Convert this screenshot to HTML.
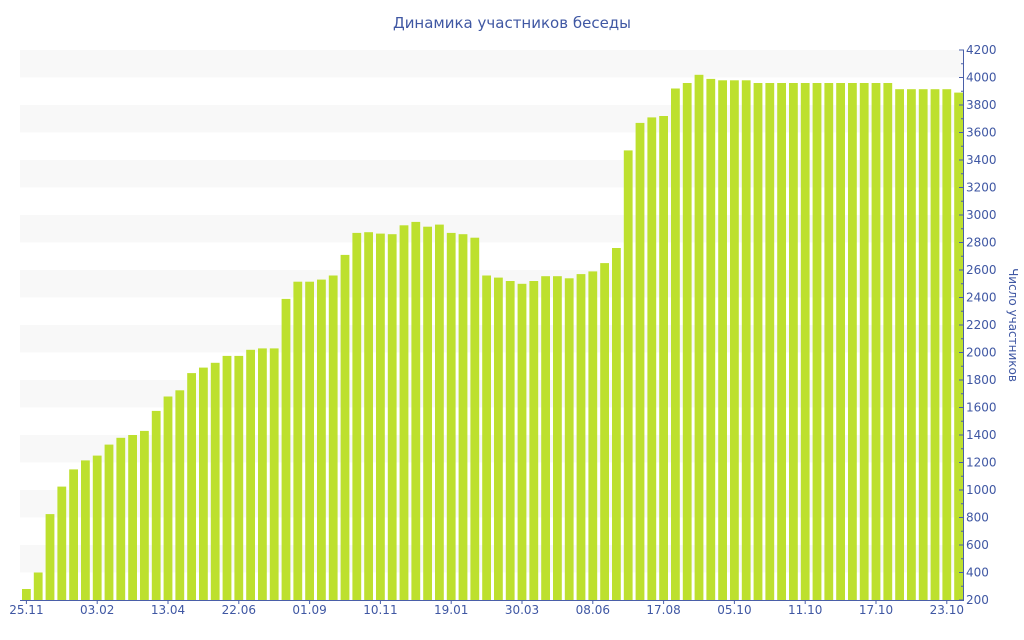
<!DOCTYPE html>
<html><head><meta charset="utf-8"><style>
html,body{margin:0;padding:0;background:#fff;}
svg{display:block;font-family:"DejaVu Sans","Liberation Sans",sans-serif;}
</style></head><body>
<svg id="c" width="1024" height="640" xmlns="http://www.w3.org/2000/svg">
<text x="512" y="28" text-anchor="middle" font-size="15" fill="#3f57a3">Динамика участников беседы</text>
<g id="stripes"></g>
<g id="bars"></g>
<g id="axes"></g>
<text transform="translate(1009,325) rotate(90)" text-anchor="middle" font-size="12" fill="#3f57a3">Число участников</text>
</svg>
<script>
var v=[280,400,825,1025,1150,1215,1250,1330,1380,1400,1430,1575,1680,1725,1850,1890,1925,1975,1975,2020,2030,2030,2390,2515,2515,2530,2560,2710,2870,2875,2865,2860,2925,2950,2915,2930,2870,2860,2835,2560,2545,2520,2500,2520,2555,2555,2540,2570,2590,2650,2760,3470,3670,3710,3720,3920,3960,4020,3990,3980,3980,3980];
for(var i=0;i<12;i++)v.push(3960);
for(var i=0;i<5;i++)v.push(3915);
v.push(3890);
var NS="http://www.w3.org/2000/svg";
function el(p,t,a,txt){var e=document.createElementNS(NS,t);for(var k in a)e.setAttribute(k,a[k]);if(txt)e.textContent=txt;document.getElementById(p).appendChild(e);}
function Y(val){return 600-(val-200)*0.1375;}
for(var s=400;s<4200;s+=400){el("stripes","rect",{x:20,y:Y(s+200),width:943,height:27.5,fill:"#f8f8f8"});}
for(var i=0;i<v.length;i++){var x=22+i*11.8;el("bars","rect",{x:x.toFixed(1),y:Y(v[i]).toFixed(1),width:8.8,height:(600-Y(v[i])).toFixed(1),fill:"#bde02e"});}
el("axes","line",{x1:963.5,y1:50,x2:963.5,y2:600,stroke:"#4a5fa8","stroke-width":1});
el("axes","line",{x1:20,y1:600.5,x2:964,y2:600.5,stroke:"#4a5fa8","stroke-width":1});
for(var t=200;t<=4200;t+=100){var y=Y(t);el("axes","line",{x1:t%200==0?959:961,y1:y,x2:964,y2:y,stroke:"#4a5fa8"});
if(t%200==0)el("axes","text",{x:966,y:y+4,"font-size":12,fill:"#3f57a3"},String(t));}
var L=["25.11","03.02","13.04","22.06","01.09","10.11","19.01","30.03","08.06","17.08","05.10","11.10","17.10","23.10"];
for(var i=0;i<L.length;i++){var x=26.4+i*6*11.8;el("axes","line",{x1:x,y1:600,x2:x,y2:604,stroke:"#4a5fa8"});
el("axes","text",{x:x,y:614,"font-size":12,fill:"#3f57a3","text-anchor":"middle"},L[i]);}
</script>
</body></html>
